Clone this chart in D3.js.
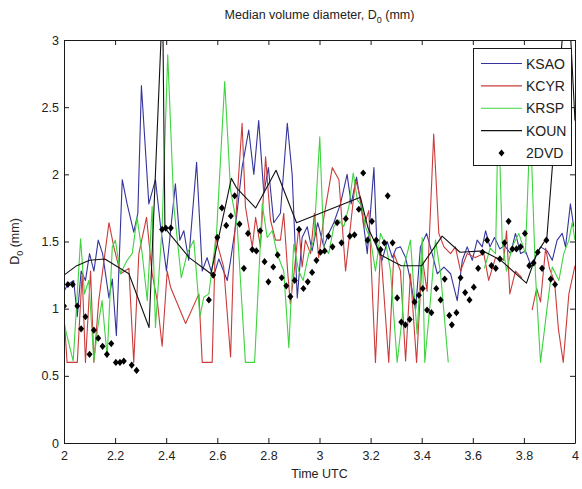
<!DOCTYPE html>
<html>
<head>
<meta charset="utf-8">
<script src="https://cdn.jsdelivr.net/npm/d3@7"></script>
<style>
  html, body { margin: 0; padding: 0; background: #fff; }
  svg text { font-family: "Liberation Sans", Arial, Helvetica, sans-serif; fill: #222; }
</style>
</head>
<body>
<svg id="chart" width="582" height="489"></svg>
<script>
// Median volume diameter D0 (mm) from four radars and the 2DVD disdrometer, 2-4 UTC.
// Each series is a list of [time UTC (h), D0 (mm)]; null breaks the line.

const xTicks = [2, 2.2, 2.4, 2.6, 2.8, 3, 3.2, 3.4, 3.6, 3.8, 4];
const yTicks = [0, 0.5, 1, 1.5, 2, 2.5, 3];

const ksao = [[2.0,1.13],[2.015,1.18],[2.038,1.21],[2.052,0.94],[2.067,1.28],[2.084,1.21],[2.10,1.41],[2.117,1.28],[2.134,1.51],[2.151,1.41],[2.176,1.08],[2.189,1.22],[2.205,0.80],[2.228,1.96],[2.247,1.78],[2.273,1.57],[2.289,1.71],[2.303,2.66],[2.332,1.78],[2.358,1.96],[2.378,1.61],[2.401,1.28],[2.436,1.93],[2.453,1.51],[2.469,1.58],[2.488,1.36],[2.519,2.09],[2.541,1.28],[2.56,1.38],[2.584,1.23],[2.606,1.37],[2.639,1.21],[2.652,1.36],[2.671,1.61],[2.697,2.05],[2.723,2.33],[2.743,2.0],[2.762,2.40],[2.782,1.86],[2.80,2.05],[2.821,1.64],[2.847,1.71],[2.874,2.38],[2.893,2.0],[2.913,1.08],[2.932,1.53],[2.952,1.61],[2.971,1.43],[2.993,1.64],[3.017,1.46],[3.036,1.56],[3.056,1.64],[3.082,1.78],[3.108,2.0],[3.124,1.78],[3.145,1.98],[3.167,1.71],[3.187,1.41],[3.213,2.05],[3.225,1.45],[3.245,1.36],[3.265,1.5],[3.285,1.38],[3.30,1.45],[3.317,1.46],[3.337,1.38],[3.356,1.21],[3.376,0.99],[3.395,1.46],[3.419,1.56],[3.441,1.41],[3.461,1.26],[3.487,1.31],[3.513,1.26],[3.539,1.06],[3.559,1.36],[3.578,1.46],[3.598,1.36],[3.617,1.51],[3.637,1.46],[3.65,1.58],[3.667,1.46],[3.685,1.53],[3.706,1.445],[3.724,1.47],[3.748,1.41],[3.767,1.56],[3.787,1.41],[3.806,1.43],[3.826,1.33],[3.845,1.38],[3.865,1.46],[3.891,1.43],[3.911,1.36],[3.93,1.51],[3.95,1.56],[3.963,1.46],[3.982,1.78],[3.995,1.61]];

const kcyr = [[2.0,0.95],[2.012,0.6],[2.052,0.6],[2.071,1.26],[2.084,0.6],[2.104,1.28],[2.117,0.6],[2.136,1.06],[2.176,1.64],[2.195,1.46],[2.221,1.26],[2.254,1.30],[2.273,0.6],[2.293,1.41],[2.323,1.68],[2.345,1.26],[2.365,1.06],[2.384,0.72],[2.404,1.28],[2.417,1.16],[2.476,0.89],[2.528,1.11],[2.541,0.6],[2.58,0.6],[2.593,1.53],[2.625,1.31],[2.652,0.64],[2.665,1.46],[2.697,2.38],[2.71,1.76],[2.723,1.61],[2.737,1.46],[2.75,1.68],[2.769,1.46],[2.789,2.13],[2.808,1.66],[2.828,1.51],[2.847,1.51],[2.86,1.71],[2.876,1.26],[2.886,1.035],[2.90,1.26],[2.919,1.61],[2.932,1.31],[2.945,1.51],[2.965,1.41],[2.98,1.71],[2.997,1.38],[3.017,1.68],[3.05,2.05],[3.076,1.96],[3.102,1.28],[3.121,1.61],[3.141,1.96],[3.16,1.83],[3.173,1.61],[3.193,1.73],[3.219,0.6],[3.239,1.46],[3.271,0.6],[3.291,1.41],[3.317,1.28],[3.337,0.61],[3.356,1.26],[3.38,0.6],[3.402,1.38],[3.421,1.13],[3.447,2.30],[3.467,1.56],[3.487,1.46],[3.513,1.41],[3.532,1.46],[3.552,1.28],[3.578,1.41],[3.61,1.38],[3.643,1.41],[3.662,1.21],[3.689,1.38],[3.721,1.36],[3.732,1.58],[3.745,1.11],[3.767,1.28],[3.793,1.23],null,[3.832,0.99],[3.85,1.15],[3.865,1.05],[3.885,1.45],[3.9,1.3],[3.92,1.2],[3.935,0.85],[3.954,0.6],[3.976,1.11],[4.0,1.32]];

const krsp = [[2.0,0.89],[2.036,0.61],[2.065,1.52],[2.08,1.11],[2.097,1.21],[2.117,0.61],[2.132,0.86],[2.149,1.06],[2.169,0.64],[2.189,1.46],[2.201,1.51],[2.221,1.26],[2.247,1.36],[2.267,1.41],[2.286,1.68],[2.306,1.41],[2.326,1.06],[2.345,1.76],[2.358,0.86],[2.384,1.61],[2.406,2.89],[2.43,1.76],[2.459,1.23],[2.482,1.41],[2.508,1.51],[2.532,0.94],[2.547,1.085],[2.567,1.11],[2.597,1.56],[2.629,2.69],[2.652,1.88],[2.678,1.61],[2.71,0.6],[2.746,0.6],[2.776,1.78],[2.795,1.53],[2.815,1.58],[2.834,1.41],[2.86,1.28],[2.88,0.71],[2.899,1.48],[2.919,1.28],[2.936,1.21],[2.958,1.41],[2.978,1.51],[3.001,2.28],[3.017,1.46],[3.036,1.41],[3.056,1.61],[3.076,1.66],[3.095,1.61],[3.115,1.76],[3.132,2.01],[3.148,1.81],[3.167,1.76],[3.18,1.61],[3.2,1.51],[3.219,1.28],[3.239,1.56],[3.262,1.46],[3.278,1.28],[3.304,0.6],[3.324,0.94],[3.33,1.31],[3.356,1.51],[3.382,0.81],[3.402,1.53],[3.412,0.6],[3.434,1.06],[3.454,1.51],[3.474,1.26],[3.504,0.6],null,[3.645,1.3],[3.668,1.45],[3.689,1.41],[3.70,2.5],[3.715,1.5],[3.732,1.28],[3.754,1.46],[3.78,1.56],[3.806,1.41],[3.825,2.4],[3.845,1.26],[3.865,0.6],[3.891,1.01],[3.911,1.31],[3.937,1.21],[3.956,1.41],[3.976,1.51],[3.989,1.64],[4.0,1.51]];

const koun = [[2.0,1.25],[2.05,1.32],[2.1,1.36],[2.16,1.37],[2.254,1.26],[2.333,0.86],[2.386,3.3],[2.395,1.6],[2.49,1.38],[2.575,1.26],[2.655,1.97],[2.675,1.9],[2.75,1.75],[2.83,2.03],[2.91,1.64],[3.16,1.83],[3.19,1.6],[3.24,1.4],[3.32,1.32],[3.40,1.32],[3.48,1.54],[3.55,1.42],[3.64,1.43],[3.71,1.36],[3.81,1.19],[3.85,1.41],[3.89,1.53],[3.97,3.5],[4.0,2.4]];

const dvd = [[2.0,1.02],[2.015,1.18],[2.034,1.18],[2.052,1.02],[2.067,0.85],[2.084,0.94],[2.10,0.66],[2.117,0.84],[2.134,0.78],[2.151,0.72],[2.168,0.66],[2.185,0.74],[2.203,0.60],[2.219,0.60],[2.234,0.61],[2.265,0.58],[2.284,0.54],[2.384,1.59],[2.398,1.60],[2.418,1.60],[2.567,1.065],[2.584,1.25],[2.60,1.53],[2.618,1.75],[2.635,1.62],[2.653,1.69],[2.668,1.84],[2.687,1.63],[2.704,1.30],[2.72,1.56],[2.737,1.44],[2.753,1.43],[2.768,1.58],[2.785,1.35],[2.80,1.20],[2.819,1.31],[2.836,1.40],[2.852,1.23],[2.87,1.17],[2.886,1.09],[2.903,1.21],[2.92,1.59],[2.937,1.15],[2.954,1.20],[2.971,1.27],[2.988,1.36],[3.004,1.42],[3.02,1.43],[3.035,1.54],[3.051,1.46],[3.069,1.64],[3.086,1.49],[3.103,1.67],[3.119,1.54],[3.137,1.55],[3.154,1.74],[3.171,2.01],[3.188,1.51],[3.205,1.65],[3.222,1.51],[3.239,1.44],[3.254,1.49],[3.267,1.84],[3.286,1.49],[3.304,1.08],[3.32,0.90],[3.336,0.88],[3.353,0.92],[3.372,1.05],[3.389,1.10],[3.404,1.15],[3.421,0.99],[3.438,0.97],[3.457,1.15],[3.474,1.065],[3.49,1.22],[3.508,0.95],[3.518,0.88],[3.536,0.97],[3.552,1.23],[3.57,1.12],[3.587,1.065],[3.604,1.16],[3.621,1.30],[3.638,1.42],[3.656,1.51],[3.673,1.32],[3.69,1.30],[3.706,1.37],[3.724,1.49],[3.74,1.65],[3.755,1.445],[3.771,1.445],[3.787,1.46],[3.804,1.56],[3.821,1.32],[3.838,1.34],[3.854,1.42],[3.871,1.30],[3.888,1.51],[3.905,1.22],[3.922,1.18]];

const series = [
  { name: "KSAO", data: ksao, color: "#34349c" },
  { name: "KCYR", data: kcyr, color: "#cc3b3b" },
  { name: "KRSP", data: krsp, color: "#3ed43e" },
  { name: "KOUN", data: koun, color: "#111111" }
];

const svg = d3.select("#chart");
const W = 582, H = 489;
const m = { left: 64, right: 7, top: 40, bottom: 46 };
const x = d3.scaleLinear().domain([2, 4]).range([m.left, W - m.right]);
const y = d3.scaleLinear().domain([0, 3]).range([H - m.bottom, m.top]);

svg.append("defs").append("clipPath").attr("id", "plotClip")
  .append("rect")
  .attr("x", m.left).attr("y", m.top)
  .attr("width", W - m.left - m.right).attr("height", H - m.top - m.bottom);

const plot = svg.append("g").attr("clip-path", "url(#plotClip)");

const line = d3.line()
  .defined(d => d !== null)
  .x(d => x(d[0]))
  .y(d => y(d[1]));

series.forEach(s => {
  plot.append("path")
    .datum(s.data)
    .attr("fill", "none")
    .attr("stroke", s.color)
    .attr("stroke-width", 1.1)
    .attr("stroke-linejoin", "round")
    .attr("d", line);
});

// Filled diamond marker, a little taller than wide
const diamondType = {
  draw(ctx) {
    const hw = 3.0, hh = 3.6;
    ctx.moveTo(0, -hh); ctx.lineTo(hw, 0); ctx.lineTo(0, hh); ctx.lineTo(-hw, 0); ctx.closePath();
  }
};
const diamond = d3.symbol().type(diamondType);
plot.selectAll("path.dvd")
  .data(dvd)
  .join("path")
  .attr("class", "dvd")
  .attr("d", diamond)
  .attr("transform", d => `translate(${x(d[0])},${y(d[1])})`)
  .attr("fill", "#000");

// Axes: inside ticks on all four sides, boxed
const tickLen = 5;
const axisColor = "#1a1a1a";
const axB = svg.append("g").attr("transform", `translate(0,${y(0)})`)
  .call(d3.axisBottom(x).tickValues(xTicks).tickSizeInner(-tickLen).tickSizeOuter(0).tickPadding(8).tickFormat(d3.format("")));
const axT = svg.append("g").attr("transform", `translate(0,${y(3)})`)
  .call(d3.axisTop(x).tickValues(xTicks).tickSizeInner(-tickLen).tickSizeOuter(0).tickFormat(""));
const axL = svg.append("g").attr("transform", `translate(${x(2)},0)`)
  .call(d3.axisLeft(y).tickValues(yTicks).tickSizeInner(-tickLen).tickSizeOuter(0).tickPadding(5).tickFormat(d3.format("")));
const axR = svg.append("g").attr("transform", `translate(${x(4)},0)`)
  .call(d3.axisRight(y).tickValues(yTicks).tickSizeInner(-tickLen).tickSizeOuter(0).tickFormat(""));

[axB, axT, axL, axR].forEach(g => {
  g.select(".domain").attr("stroke", axisColor);
  g.selectAll(".tick line").attr("stroke", axisColor);
  g.selectAll(".tick text").attr("font-size", 12.5).attr("fill", "#222")
    .attr("font-family", '"Liberation Sans", Arial, sans-serif');
});
axL.selectAll(".tick text").attr("dy", "0.32em");

// Title with subscript
const title = svg.append("text")
  .attr("x", (x(2) + x(4)) / 2).attr("y", 19)
  .attr("text-anchor", "middle").attr("font-size", 12.5);
title.append("tspan").text("Median volume diameter, D");
title.append("tspan").attr("font-size", 9).attr("dy", 4).text("0");
title.append("tspan").attr("dy", -4).text(" (mm)");

// x label
svg.append("text")
  .attr("x", (x(2) + x(4)) / 2).attr("y", 478)
  .attr("text-anchor", "middle").attr("font-size", 12.5)
  .text("Time UTC");

// y label with subscript
const yl = svg.append("text")
  .attr("transform", `translate(19,${(y(0) + y(3)) / 2}) rotate(-90)`)
  .attr("text-anchor", "middle").attr("font-size", 12.5);
yl.append("tspan").text("D");
yl.append("tspan").attr("font-size", 9).attr("dy", 4).text("0");
yl.append("tspan").attr("dy", -4).text(" (mm)");

// Legend
const lg = svg.append("g");
const lgBox = { x: 473.5, y: 48.5, w: 98, h: 117 };
lg.append("rect")
  .attr("x", lgBox.x).attr("y", lgBox.y).attr("width", lgBox.w).attr("height", lgBox.h)
  .attr("fill", "#fff").attr("stroke", axisColor).attr("stroke-width", 1);

const legendItems = series.map(s => ({ name: s.name, color: s.color, kind: "line" }))
  .concat([{ name: "2DVD", color: "#000", kind: "marker" }]);
const rowY = d3.scalePoint().domain(legendItems.map(d => d.name)).range([63.5, 153]);

legendItems.forEach(it => {
  const cy = rowY(it.name);
  if (it.kind === "line") {
    lg.append("line").attr("x1", 481).attr("x2", 522).attr("y1", cy).attr("y2", cy)
      .attr("stroke", it.color).attr("stroke-width", 1.1);
  } else {
    lg.append("path").attr("d", diamond).attr("transform", `translate(501.5,${cy})`).attr("fill", "#000");
  }
  lg.append("text").attr("x", 526).attr("y", cy).attr("dy", "0.36em")
    .attr("font-size", 14).text(it.name);
});
</script>
</body>
</html>
